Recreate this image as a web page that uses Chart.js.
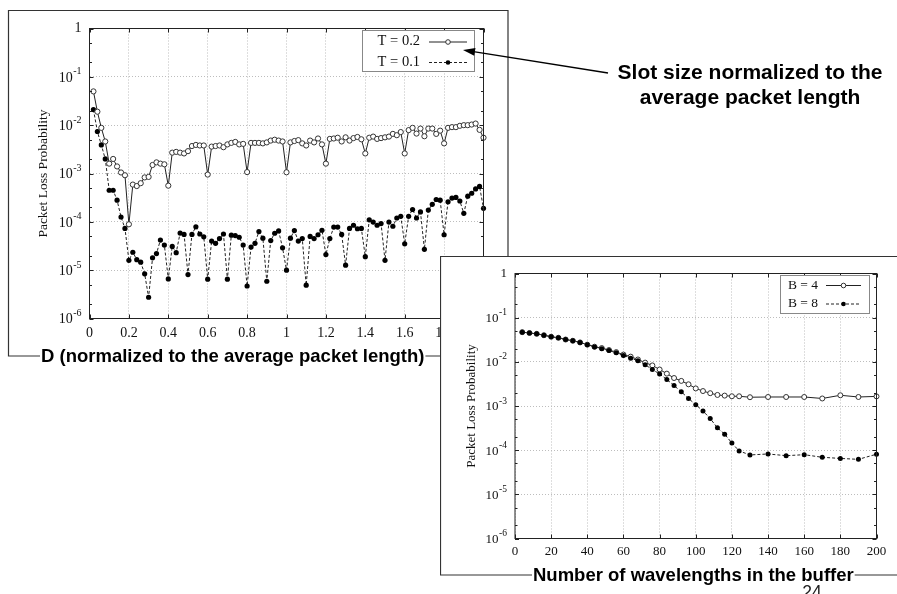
<!DOCTYPE html>
<html><head><meta charset="utf-8">
<script src="https://cdn.jsdelivr.net/npm/chart.js@4.4.0/dist/chart.umd.min.js"></script>
<style>
html,body{margin:0;padding:0;background:#fff;width:897px;height:594px;overflow:hidden;}
#c1{position:absolute;left:0;top:0;}
#c2{position:absolute;left:440px;top:256px;background:#fff;}
</style></head><body>
<canvas id="c1" width="897" height="594"></canvas>
<canvas id="c2" width="457" height="338"></canvas>
<script>
// ---------- data: chart 1 ----------
const dValues = [
 0.02,0.04,0.06,0.08,0.10,0.12,0.14,0.16,0.18,0.20,
 0.22,0.24,0.26,0.28,0.30,0.32,0.34,0.36,0.38,0.40,
 0.42,0.44,0.46,0.48,0.50,0.52,0.54,0.56,0.58,0.60,
 0.62,0.64,0.66,0.68,0.70,0.72,0.74,0.76,0.78,0.80,
 0.82,0.84,0.86,0.88,0.90,0.92,0.94,0.96,0.98,1.00,
 1.02,1.04,1.06,1.08,1.10,1.12,1.14,1.16,1.18,1.20,
 1.22,1.24,1.26,1.28,1.30,1.32,1.34,1.36,1.38,1.40,
 1.42,1.44,1.46,1.48,1.50,1.52,1.54,1.56,1.58,1.60,
 1.62,1.64,1.66,1.68,1.70,1.72,1.74,1.76,1.78,1.80,
 1.82,1.84,1.86,1.88,1.90,1.92,1.94,1.96,1.98,2.00];
const lossT02 = [
 0.05,0.019,0.0088,0.0046,0.0016,0.0020,0.0014,0.00105,0.00092,0.000089,
 0.00059,0.00055,0.00063,0.00083,0.00085,0.0015,0.0017,0.0016,0.00155,0.00056,
 0.0027,0.0028,0.0027,0.0026,0.0029,0.0037,0.0039,0.0038,0.0038,0.00095,
 0.0036,0.0037,0.0038,0.0035,0.0040,0.0043,0.0045,0.0040,0.0041,0.00107,
 0.0043,0.0043,0.0043,0.0042,0.0044,0.0048,0.0050,0.0048,0.0046,0.00106,
 0.0044,0.0047,0.0049,0.0042,0.0038,0.0048,0.0044,0.0053,0.0040,0.0016,
 0.0052,0.0053,0.0055,0.0046,0.0056,0.0048,0.0054,0.0057,0.0051,0.0026,
 0.0055,0.0058,0.0052,0.0054,0.0056,0.0058,0.0066,0.0062,0.0072,0.0026,
 0.0079,0.0088,0.0067,0.0085,0.0059,0.0085,0.0085,0.0066,0.0077,0.0042,
 0.0088,0.0091,0.0091,0.0097,0.0100,0.0100,0.0103,0.0108,0.0080,0.0055];
const lossT01 = [
 0.021,0.0074,0.0039,0.0020,0.00045,0.00045,0.00028,0.000126,0.000073,0.000016,
 0.0000235,0.0000165,0.0000146,0.0000084,0.00000275,0.000018,0.000022,0.000042,0.000033,0.0000066,
 0.000031,0.000023,0.0000585,0.000055,0.0000081,0.000055,0.000079,0.000056,0.000049,0.0000065,
 0.000040,0.000036,0.000045,0.000056,0.0000065,0.000053,0.000052,0.000048,0.000033,0.0000047,
 0.000030,0.000036,0.000063,0.000046,0.0000059,0.000041,0.000058,0.000065,0.000029,0.000010,
 0.000046,0.000066,0.000040,0.000045,0.0000049,0.000050,0.000045,0.000054,0.000067,0.000021,
 0.000045,0.000078,0.000078,0.000055,0.0000127,0.000073,0.000085,0.000072,0.000073,0.000019,
 0.00011,0.000099,0.000085,0.000092,0.000016,0.000099,0.000081,0.00012,0.00013,0.000035,
 0.00013,0.00018,0.00012,0.00016,0.000027,0.000175,0.00023,0.00029,0.00028,0.000054,
 0.00026,0.00031,0.00032,0.00027,0.00015,0.00034,0.00039,0.00048,0.00054,0.00019];
const xTicks1 = [0,0.2,0.4,0.6,0.8,1,1.2,1.4,1.6,1.8,2];
const xTickLabels1 = ['0','0.2','0.4','0.6','0.8','1','1.2','1.4','1.6','1.8','2'];
const legend1 = ['T = 0.2','T = 0.1'];
// ---------- data: chart 2 ----------
const wavelengths = [4,8,12,16,20,24,28,32,36,40,44,48,52,56,60,64,68,72,76,80,
 84,88,92,96,100,104,108,112,116,120,124,130,140,150,160,170,180,190,200];
const lossB4 = [0.047,0.045,0.043,0.040,0.037,0.035,0.032,0.030,0.0275,0.0245,
 0.0220,0.0205,0.0185,0.0166,0.0146,0.0131,0.0113,0.0096,0.0083,0.0067,
 0.0054,0.0043,0.0037,0.0031,0.0025,0.00218,0.00195,0.00178,0.00172,0.00166,
 0.00166,0.00158,0.0016,0.0016,0.0016,0.00148,0.00175,0.0016,0.00165];
const lossB8 = [0.047,0.045,0.043,0.040,0.037,0.035,0.032,0.030,0.0275,0.0245,
 0.0218,0.0198,0.0180,0.0160,0.0140,0.0121,0.0106,0.0086,0.0067,0.0053,
 0.0040,0.0029,0.0021,0.00148,0.00107,0.00077,0.00052,0.00032,0.00023,0.000145,
 0.000096,0.000078,0.000082,0.000075,0.000079,0.000069,0.000065,0.000062,0.000081];
const xTicks2 = [0,20,40,60,80,100,120,140,160,180,200];
const xTickLabels2 = ['0','20','40','60','80','100','120','140','160','180','200'];
const legend2 = ['B = 4','B = 8'];
// ---------- shared ----------
const yTicks = [1,0.1,0.01,0.001,0.0001,0.00001,0.000001];
const yExponents = [0,-1,-2,-3,-4,-5,-6];
const yTitle = 'Packet Loss Probability';
const title1 = 'D (normalized to the average packet length)';
const title2 = 'Number of wavelengths in the buffer';
const noteLines = ['Slot size normalized to the','average packet length'];
const pageNumber = '24';

const SERIF = '"Liberation Serif","Times New Roman",serif';
const SANS = '"Liberation Sans",Arial,sans-serif';

function drawMarker(ctx,x,y,r,filled){
  ctx.beginPath(); ctx.arc(x,y,r,0,Math.PI*2);
  if(filled){ctx.fillStyle='#000';ctx.fill();}
  else{ctx.fillStyle='#fff';ctx.fill();ctx.strokeStyle='#333';ctx.lineWidth=1;ctx.stroke();}
}

function decor(cfg){
  return {id:'decor'+cfg.key, afterDraw(chart){
    const ctx=chart.ctx, a=chart.chartArea, xs=chart.scales.x, ys=chart.scales.y;
    ctx.save();
    ctx.strokeStyle='#222'; ctx.lineWidth=1; ctx.setLineDash([]);
    ctx.strokeRect(a.left,a.top,a.right-a.left,a.bottom-a.top);
    ctx.beginPath();
    cfg.xTicks.forEach(v=>{const x=Math.round(xs.getPixelForValue(v))+0.5;
      ctx.moveTo(x,a.bottom);ctx.lineTo(x,a.bottom-4);ctx.moveTo(x,a.top);ctx.lineTo(x,a.top+4);});
    yTicks.forEach(v=>{const y=Math.round(ys.getPixelForValue(v))+0.5;
      ctx.moveTo(a.left,y);ctx.lineTo(a.left+4,y);ctx.moveTo(a.right,y);ctx.lineTo(a.right-4,y);
      if(v<1){[2,5].forEach(m=>{const yy=Math.round(ys.getPixelForValue(v*m))+0.5;
        ctx.moveTo(a.left,yy);ctx.lineTo(a.left+2.5,yy);ctx.moveTo(a.right,yy);ctx.lineTo(a.right-2.5,yy);});}
    });
    ctx.stroke();
    ctx.fillStyle='#111'; ctx.font=cfg.tickSize+'px '+SERIF; ctx.textAlign='center'; ctx.textBaseline='middle';
    cfg.xTicks.forEach((v,i)=>ctx.fillText(cfg.xLabels[i],xs.getPixelForValue(v),a.bottom+cfg.xLabOff));
    yTicks.forEach((v,i)=>{
      const y=ys.getPixelForValue(v), e=yExponents[i], rx=a.left-cfg.yLabOff;
      ctx.textAlign='right';
      if(e===0){ctx.font=cfg.tickSize+'px '+SERIF;ctx.fillText('1',rx,y);}
      else{
        const es='-'+Math.abs(e);
        ctx.font=cfg.supSize+'px '+SERIF; const ew=ctx.measureText(es).width;
        ctx.fillText(es,rx,y-5);
        ctx.font=cfg.tickSize+'px '+SERIF; ctx.fillText('10',rx-ew-0.5,y+1);
      }
    });
    ctx.save(); ctx.translate(cfg.yTitleX,(a.top+a.bottom)/2); ctx.rotate(-Math.PI/2);
    ctx.font=cfg.yTitleSize+'px '+SERIF; ctx.textAlign='center'; ctx.textBaseline='middle';
    ctx.fillText(yTitle,0,0); ctx.restore();
    const L=cfg.legend;
    ctx.fillStyle='#fff'; ctx.fillRect(L.x,L.y,L.w,L.h);
    ctx.strokeStyle='#888'; ctx.lineWidth=1; ctx.strokeRect(L.x+0.5,L.y+0.5,L.w,L.h);
    L.rows.forEach((r,i)=>{
      ctx.fillStyle='#111'; ctx.font=L.size+'px '+SERIF; ctx.textAlign='right'; ctx.textBaseline='middle';
      ctx.fillText(cfg.legendLabels[i],L.textR,r);
      ctx.strokeStyle='#222'; ctx.lineWidth=1; ctx.setLineDash(i===0?[]:[3,2]);
      ctx.beginPath(); ctx.moveTo(L.l0,r+0.5); ctx.lineTo(L.l1,r+0.5); ctx.stroke(); ctx.setLineDash([]);
      drawMarker(ctx,(L.l0+L.l1)/2,r+0.5,2.3,i===1);
    });
    ctx.font='bold '+cfg.titleSize+'px '+SANS; ctx.fillStyle='#000'; ctx.textAlign='left'; ctx.textBaseline='middle';
    const tw=ctx.measureText(cfg.title).width;
    ctx.fillText(cfg.title,cfg.titleX,cfg.frame.bottom+1);
    const f=cfg.frame;
    ctx.strokeStyle='#333'; ctx.lineWidth=1.2; ctx.beginPath();
    ctx.moveTo(cfg.titleX-1,f.bottom); ctx.lineTo(f.left,f.bottom); ctx.lineTo(f.left,f.top); ctx.lineTo(f.right,f.top);
    if(f.hasRight) ctx.lineTo(f.right,f.bottom);
    ctx.moveTo(cfg.titleX+tw+1,f.bottom); ctx.lineTo(f.right,f.bottom);
    ctx.stroke();
    if(cfg.extra) cfg.extra(ctx);
    ctx.restore();
  }};
}

new Chart(document.getElementById('c1'),{
  type:'line',
  data:{datasets:[
    {label:legend1[0],data:dValues.map((d,i)=>({x:d,y:lossT02[i]})),borderColor:'#222',borderWidth:1,
     pointRadius:2.6,pointBorderWidth:1,pointBackgroundColor:'#fff',pointBorderColor:'#333',clip:false},
    {label:legend1[1],data:dValues.map((d,i)=>({x:d,y:lossT01[i]})),borderColor:'#222',borderWidth:1,borderDash:[3,2],
     pointRadius:2.6,pointBorderWidth:0,pointBackgroundColor:'#000',pointBorderColor:'#000',clip:false}
  ]},
  options:{responsive:false,animation:false,events:[],
    layout:{padding:{left:89.5,right:413.5,top:28.5,bottom:275.5}},
    plugins:{legend:{display:false},tooltip:{enabled:false}},
    scales:{
      x:{type:'linear',min:0,max:2,afterBuildTicks:s=>{s.ticks=xTicks1.map(v=>({value:v}));},
         ticks:{display:false},grid:{color:'#bdbdbd',drawTicks:false},border:{display:false,dash:[1,2]}},
      y:{type:'logarithmic',min:1e-6,max:1,afterBuildTicks:s=>{s.ticks=yTicks.map(v=>({value:v}));},
         ticks:{display:false},grid:{color:'#bdbdbd',drawTicks:false},border:{display:false,dash:[1,2]}}
    }},
  plugins:[decor({key:1,xTicks:xTicks1,xLabels:xTickLabels1,tickSize:14,supSize:10,xLabOff:15,yLabOff:8,
    yTitleX:43,yTitleSize:13.5,legendLabels:legend1,
    legend:{x:362,y:30,w:112,h:41,rows:[41.5,62],textR:420,l0:429,l1:467,size:14.5},
    title:title1,titleSize:18.5,titleX:41,frame:{left:8.5,top:10.5,right:508,bottom:356,hasRight:true},
    extra:(ctx)=>{
      ctx.fillStyle='#000'; ctx.font='bold 21px '+SANS; ctx.textAlign='center'; ctx.textBaseline='middle';
      ctx.fillText(noteLines[0],750,73); ctx.fillText(noteLines[1],750,98);
      const x1=608,y1=73,x2=463,y2=50,ang=Math.atan2(y2-y1,x2-x1),c=Math.cos(ang),s=Math.sin(ang);
      ctx.strokeStyle='#000'; ctx.lineWidth=1.3; ctx.beginPath(); ctx.moveTo(x1,y1); ctx.lineTo(x2-9*c,y2-9*s); ctx.stroke();
      ctx.beginPath(); ctx.moveTo(x2,y2); ctx.lineTo(x2-12*c+4*s,y2-12*s-4*c); ctx.lineTo(x2-12*c-4*s,y2-12*s+4*c); ctx.closePath(); ctx.fill();
    }})]
});

new Chart(document.getElementById('c2'),{
  type:'line',
  data:{datasets:[
    {label:legend2[1],data:wavelengths.map((w,i)=>({x:w,y:lossB8[i]})),borderColor:'#222',borderWidth:1,borderDash:[3,2],
     pointRadius:2.5,pointBorderWidth:0,pointBackgroundColor:'#000',pointBorderColor:'#000',clip:false},
    {label:legend2[0],data:wavelengths.map((w,i)=>({x:w,y:lossB4[i]})),borderColor:'#222',borderWidth:1,
     pointRadius:2.5,pointBorderWidth:1,pointBackgroundColor:'#fff',pointBorderColor:'#333',clip:false}
  ]},
  options:{responsive:false,animation:false,events:[],
    layout:{padding:{left:75,right:20.5,top:17.5,bottom:55.5}},
    plugins:{legend:{display:false},tooltip:{enabled:false}},
    scales:{
      x:{type:'linear',min:0,max:200,afterBuildTicks:s=>{s.ticks=xTicks2.map(v=>({value:v}));},
         ticks:{display:false},grid:{color:'#bdbdbd',drawTicks:false},border:{display:false,dash:[1,2]}},
      y:{type:'logarithmic',min:1e-6,max:1,afterBuildTicks:s=>{s.ticks=yTicks.map(v=>({value:v}));},
         ticks:{display:false},grid:{color:'#bdbdbd',drawTicks:false},border:{display:false,dash:[1,2]}}
    }},
  plugins:[decor({key:2,xTicks:xTicks2,xLabels:xTickLabels2,tickSize:13,supSize:9.5,xLabOff:13,yLabOff:8,
    yTitleX:32,yTitleSize:13,legendLabels:legend2,
    legend:{x:340,y:19,w:89,h:38,rows:[29,47.5],textR:378,l0:386,l1:421,size:13.5},
    title:title2,titleSize:18.5,titleX:93,frame:{left:0.5,top:0.5,right:460,bottom:319,hasRight:false},
    extra:(ctx)=>{
      ctx.fillStyle='#222'; ctx.font='17.5px '+SANS; ctx.textAlign='center'; ctx.textBaseline='alphabetic';
      ctx.fillText(pageNumber,372,342);
    }})]
});
</script>
</body></html>
